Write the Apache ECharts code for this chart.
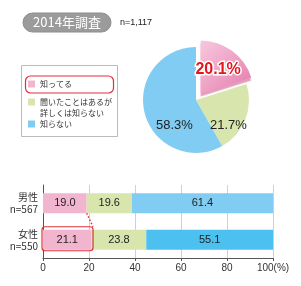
<!DOCTYPE html>
<html>
<head>
<meta charset="utf-8">
<script src="https://cdn.jsdelivr.net/npm/echarts@6/dist/echarts.min.js"></script>
<style>
  html, body { margin: 0; padding: 0; background: #fff; }
  #main { width: 301px; height: 286px; }
</style>
</head>
<body>
<div id="main"></div>
<script>
// data
var answers = ['知ってる', '聞いたことはあるが\n詳しくは知らない', '知らない'];
var totalShare = [20.1, 21.7, 58.3];
var groups = ['男性\nn=567', '女性\nn=550'];
var knowShare = [19.0, 21.1];
var heardShare = [19.6, 23.8];
var unknownShare = [61.4, 55.1];
var xTicks = [0, 20, 40, 60, 80, 100];

var FONT = '"Noto Sans CJK JP", "Liberation Sans", sans-serif';
var PINK = '#f2b5cf', GREEN = '#d8e6ae', BLUE = '#80ccf2', BLUE2 = '#4cc0ee';

var chart = echarts.init(document.getElementById('main'));

var pinkGrad = new echarts.graphic.LinearGradient(0, 0, 1, 1, [
  { offset: 0, color: '#f7c8dd' },
  { offset: 0.55, color: '#ee9fc3' },
  { offset: 1, color: '#e478aa' }
]);

var pieData = [
  {
    name: answers[0], value: totalShare[0], selected: true,
    itemStyle: { color: pinkGrad, shadowColor: 'rgba(200,60,120,0.5)', shadowOffsetY: 3, shadowBlur: 1 },
    label: {
      color: '#e8141c', fontSize: 16, fontWeight: 'bold', fontFamily: 'Liberation Sans, Arial',
      textBorderColor: '#fff', textBorderWidth: 3, offset: [8, -8]
    }
  },
  { name: answers[1], value: totalShare[1], itemStyle: { color: GREEN }, label: { offset: [5, 15] } },
  { name: answers[2], value: totalShare[2], itemStyle: { color: BLUE }, label: { offset: [7, 18] } }
];

// one legend per answer so each row can sit where the original puts it;
// the blank first line keeps the swatch level with the first text line
function legendFor(i, top) {
  return {
    orient: 'vertical', left: 28, top: top, padding: 0,
    data: [{ name: answers[i], itemStyle: { color: [PINK, GREEN, BLUE][i] } }],
    icon: 'rect', itemWidth: 7, itemHeight: 7, itemGap: 0,
    selectedMode: false,
    formatter: function (name) { return name.indexOf('\n') >= 0 ? '\n' + name : name; },
    textStyle: { fontSize: 8, color: '#333', fontFamily: FONT, lineHeight: 11 }
  };
}

chart.setOption({
  animation: false,
  textStyle: { fontFamily: FONT },
  legend: [legendFor(0, 78.5), legendFor(1, 85.5), legendFor(2, 118.5)],
  grid: { left: 43, top: 185, width: 230, height: 73 },
  xAxis: {
    type: 'value', min: 0, max: 100, interval: 20,
    axisLine: { show: true, lineStyle: { color: '#555' } },
    axisTick: { show: true, length: 3, lineStyle: { color: '#555' } },
    splitLine: { show: true, lineStyle: { color: '#d0d0d0' } },
    axisLabel: {
      fontSize: 10, color: '#333', margin: 5, fontFamily: 'Liberation Sans, Arial',
      formatter: function (v) { return v === 100 ? '100(%)' : String(v); }
    }
  },
  yAxis: {
    type: 'category', data: groups, inverse: true,
    axisLine: { show: true, lineStyle: { color: '#555' } },
    axisTick: { show: false },
    axisLabel: { fontSize: 10, color: '#333', lineHeight: 12, margin: 5, align: 'right' }
  },
  series: [
    {
      type: 'pie', center: [196, 100], radius: 53, startAngle: 90, clockwise: true,
      selectedMode: 'single', selectedOffset: 8, z: 3,
      label: { show: true, position: 'inside', formatter: '{c}%', fontSize: 13, color: '#222', fontFamily: 'Liberation Sans, Arial' },
      labelLine: { show: false },
      emphasis: { disabled: true },
      data: pieData
    },
    {
      name: 'bar1', type: 'bar', stack: 'all', barWidth: 20,
      data: knowShare, itemStyle: { color: PINK },
      label: { show: true, position: 'inside', fontSize: 11, color: '#222', fontFamily: 'Liberation Sans, Arial', formatter: function (p) { return p.value.toFixed(1); } }
    },
    {
      name: 'bar2', type: 'bar', stack: 'all', barWidth: 20,
      data: heardShare, itemStyle: { color: GREEN },
      label: { show: true, position: 'inside', fontSize: 11, color: '#222', fontFamily: 'Liberation Sans, Arial', formatter: function (p) { return p.value.toFixed(1); } }
    },
    {
      name: 'bar3', type: 'bar', stack: 'all', barWidth: 20,
      data: [
        { value: unknownShare[0], itemStyle: { color: BLUE } },
        { value: unknownShare[1], itemStyle: { color: BLUE2 } }
      ],
      label: { show: true, position: 'inside', fontSize: 11, color: '#222', fontFamily: 'Liberation Sans, Arial', formatter: function (p) { return p.value.toFixed(1); } }
    }
  ],
  graphic: [
    { id: 'pill', type: 'rect', shape: { x: 23, y: 13, width: 88, height: 19, r: 9.5 }, style: { fill: '#9b9b9b', stroke: '#8c8c8c', lineWidth: 1 } },
    { id: 'pillText', type: 'text', x: 67, y: 22.5, style: { text: '2014年調査', fill: '#fff', fontSize: 13, fontFamily: FONT, align: 'center', verticalAlign: 'middle' } },
    { id: 'nText', type: 'text', x: 120, y: 23, style: { text: 'n=1,117', fill: '#222', fontSize: 9, fontFamily: 'Liberation Sans, Arial', verticalAlign: 'middle' } },
    { id: 'legendBox', type: 'rect', z: -1, shape: { x: 21.5, y: 65.5, width: 96, height: 71 }, style: { fill: '#fff', stroke: '#bbb', lineWidth: 1 } },
    { id: 'legendMark', type: 'rect', shape: { x: 25.5, y: 76, width: 88, height: 17, r: 5 }, style: { fill: 'none', stroke: '#e0303a', lineWidth: 1.2 } }
  ]
});

// highlight on the women's "know" bar and the dotted link from the men's one
var a = chart.convertToPixel({ gridIndex: 0 }, [knowShare[0], 0]);
var b = chart.convertToPixel({ gridIndex: 0 }, [knowShare[1], 1]);
var x0 = chart.convertToPixel({ gridIndex: 0 }, [0, 1])[0];
chart.setOption({
  graphic: [
    { id: 'barMark', type: 'rect', z: 10, shape: { x: x0 - 1, y: b[1] - 13, width: b[0] - x0 + 2.5, height: 24, r: 3 }, style: { fill: 'none', stroke: '#e0303a', lineWidth: 1.2 } },
    { id: 'link', type: 'line', z: 10, shape: { x1: a[0], y1: a[1] + 10, x2: b[0] + 1.5, y2: b[1] - 13 }, style: { stroke: '#e0303a', lineWidth: 1.5, lineDash: [1.5, 2] } }
  ]
});
</script>
</body>
</html>
